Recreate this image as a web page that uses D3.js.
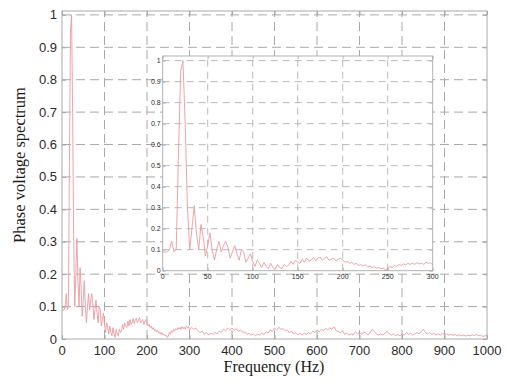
<!DOCTYPE html>
<html>
<head>
<meta charset="utf-8">
<script src="https://cdn.jsdelivr.net/npm/d3@7"></script>
<style>
  html, body { margin: 0; padding: 0; background: #fff; }
  svg { display: block; }
</style>
</head>
<body>
<svg id="chart" width="506" height="379"></svg>
<script>
// Low band spectrum, 0–300 Hz in 2.5 Hz steps
const lowStep = 2.5;
const lowValues = [
  0.090, 0.088, 0.090, 0.100, 0.140, 0.090, 0.100, 0.550, 0.950, 1.000,
  0.700, 0.300, 0.100, 0.200, 0.310, 0.180, 0.100, 0.220, 0.160, 0.070,
  0.120, 0.180, 0.100, 0.050, 0.100, 0.140, 0.090, 0.120, 0.140, 0.110,
  0.060, 0.090, 0.120, 0.080, 0.050, 0.100, 0.090, 0.040, 0.060, 0.080,
  0.045, 0.020, 0.050, 0.035, 0.015, 0.040, 0.020, 0.010, 0.035, 0.015,
  0.005, 0.030, 0.015, 0.010, 0.030, 0.020, 0.025, 0.045, 0.030, 0.050,
  0.040, 0.035, 0.055, 0.040, 0.060, 0.045, 0.050, 0.063, 0.048, 0.060,
  0.065, 0.050, 0.060, 0.066, 0.050, 0.055, 0.060, 0.045, 0.055, 0.060,
  0.050, 0.040, 0.045, 0.035, 0.040, 0.030, 0.035, 0.025, 0.030, 0.022,
  0.028, 0.018, 0.022, 0.015, 0.020, 0.012, 0.015, 0.010, 0.012, 0.005,
  0.008, 0.020, 0.015, 0.025, 0.020, 0.030, 0.025, 0.032, 0.028, 0.035,
  0.030, 0.036, 0.030, 0.038, 0.032, 0.036, 0.030, 0.040, 0.035, 0.038,
  0.028
];

// High band spectrum, 305–1000 Hz in 5 Hz steps
const highStart = 305;
const highStep = 5;
const highValues = [
  0.036, 0.030, 0.034, 0.025, 0.020, 0.024, 0.015, 0.020, 0.012, 0.018,
  0.014, 0.020, 0.016, 0.024, 0.020, 0.030, 0.025, 0.033, 0.028, 0.034,
  0.027, 0.032, 0.024, 0.028, 0.020, 0.022, 0.014, 0.018, 0.012, 0.016,
  0.010, 0.015, 0.012, 0.018, 0.014, 0.022, 0.018, 0.028, 0.024, 0.034,
  0.028, 0.036, 0.030, 0.032, 0.025, 0.028, 0.020, 0.024, 0.016, 0.020,
  0.013, 0.018, 0.012, 0.018, 0.014, 0.020, 0.016, 0.024, 0.020, 0.028,
  0.022, 0.030, 0.026, 0.032, 0.028, 0.034, 0.030, 0.038, 0.026, 0.024,
  0.018, 0.026, 0.014, 0.018, 0.012, 0.016, 0.012, 0.022, 0.016, 0.020,
  0.014, 0.022, 0.018, 0.012, 0.020, 0.030, 0.022, 0.016, 0.012, 0.016,
  0.012, 0.018, 0.024, 0.016, 0.012, 0.015, 0.010, 0.014, 0.010, 0.016,
  0.012, 0.020, 0.014, 0.018, 0.012, 0.016, 0.020, 0.016, 0.022, 0.030,
  0.020, 0.016, 0.020, 0.014, 0.018, 0.012, 0.016, 0.012, 0.018, 0.014,
  0.016, 0.012, 0.015, 0.011, 0.014, 0.010, 0.013, 0.010, 0.012, 0.009,
  0.012, 0.010, 0.013, 0.011, 0.014, 0.010, 0.012, 0.008, 0.010, 0.010
];

const mainXTicks = [0, 100, 200, 300, 400, 500, 600, 700, 800, 900, 1000];
const mainYTicks = [0, 0.1, 0.2, 0.3, 0.4, 0.5, 0.6, 0.7, 0.8, 0.9, 1];
const insetXTicks = [0, 50, 100, 150, 200, 250, 300];
const insetYTicks = [0, 0.1, 0.2, 0.3, 0.4, 0.5, 0.6, 0.7, 0.8, 0.9, 1];

const lowSeries = lowValues.map((v, i) => ({ f: i * lowStep, v }));
const highSeries = highValues.map((v, i) => ({ f: highStart + i * highStep, v }));
const fullSeries = lowSeries.concat(highSeries);

const svg = d3.select("#chart");
const lineColor = "#ec9a9f";
const gridColor = "#a8a8a8";
const boxColor = "#a8a8a8";
const textColor = "#2b2b2b";

function drawAxes(g, x, y, xTicks, yTicks, opts) {
  const [x0, x1] = x.range();
  const [yb, yt] = y.range();

  g.append("rect")
    .attr("x", x0).attr("y", yt)
    .attr("width", x1 - x0).attr("height", yb - yt)
    .attr("fill", "#fff");

  // dashed grid
  const grid = g.append("g")
    .attr("stroke", gridColor)
    .attr("stroke-width", opts.gridWidth)
    .attr("stroke-dasharray", opts.dash);
  grid.selectAll("line.vx")
    .data(xTicks.filter(t => t !== x.domain()[0] && t !== x.domain()[1]))
    .join("line")
    .attr("x1", d => x(d)).attr("x2", d => x(d))
    .attr("y1", yb).attr("y2", yt);
  grid.selectAll("line.hy")
    .data(yTicks.filter(t => t !== 0))
    .join("line")
    .attr("y1", d => y(d)).attr("y2", d => y(d))
    .attr("x1", x0).attr("x2", x1);

  // tick marks (inward, all four sides) via d3 axes
  const tickLen = opts.tickLen;
  g.append("g").attr("transform", `translate(0,${yb})`)
    .call(d3.axisBottom(x).tickValues(xTicks).tickSize(-tickLen).tickFormat(""));
  g.append("g").attr("transform", `translate(0,${yt})`)
    .call(d3.axisTop(x).tickValues(xTicks).tickSize(-tickLen).tickFormat(""));
  g.append("g").attr("transform", `translate(${x0},0)`)
    .call(d3.axisLeft(y).tickValues(yTicks).tickSize(-tickLen).tickFormat(""));
  g.append("g").attr("transform", `translate(${x1},0)`)
    .call(d3.axisRight(y).tickValues(yTicks).tickSize(-tickLen).tickFormat(""));
  g.selectAll(".domain").remove();
  g.selectAll(".tick line").attr("stroke", boxColor).attr("stroke-width", opts.gridWidth);

  // tick labels
  g.append("g").selectAll("text")
    .data(xTicks).join("text")
    .attr("x", d => x(d)).attr("y", yb + opts.xLabelOffset)
    .attr("text-anchor", "middle")
    .attr("font-family", "Liberation Sans, Arial, sans-serif")
    .attr("font-size", opts.fontSize)
    .attr("fill", textColor)
    .text(d => d);
  g.append("g").selectAll("text")
    .data(yTicks).join("text")
    .attr("x", x0 - opts.yLabelGap).attr("y", d => y(d))
    .attr("dy", "0.35em")
    .attr("text-anchor", "end")
    .attr("font-family", "Liberation Sans, Arial, sans-serif")
    .attr("font-size", opts.fontSize)
    .attr("fill", textColor)
    .text(d => d);
}

function drawBox(g, x, y, w) {
  const [x0, x1] = x.range();
  const [yb, yt] = y.range();
  g.append("rect")
    .attr("x", x0).attr("y", yt)
    .attr("width", x1 - x0).attr("height", yb - yt)
    .attr("fill", "none")
    .attr("stroke", boxColor)
    .attr("stroke-width", w);
}

// ---- main axes ----
const xMain = d3.scaleLinear().domain([0, 1000]).range([62, 487]);
const yMain = d3.scaleLinear().domain([0, 1.012]).range([339, 11]);
const gMain = svg.append("g");
drawAxes(gMain, xMain, yMain, mainXTicks, mainYTicks, {
  gridWidth: 1, dash: "9,5", tickLen: 4, fontSize: 13, xLabelOffset: 16, yLabelGap: 5
});

const lineMain = d3.line().x(d => xMain(d.f)).y(d => yMain(d.v));
gMain.append("path")
  .datum(fullSeries)
  .attr("d", lineMain)
  .attr("fill", "none")
  .attr("stroke", lineColor)
  .attr("stroke-width", 0.9);
drawBox(gMain, xMain, yMain, 1);

// axis titles
svg.append("text")
  .attr("x", 274).attr("y", 372)
  .attr("text-anchor", "middle")
  .attr("font-family", "Liberation Serif, Times New Roman, serif")
  .attr("font-size", 16)
  .attr("fill", "#1a1a1a")
  .text("Frequency (Hz)");
svg.append("text")
  .attr("transform", "translate(25,165) rotate(-90)")
  .attr("text-anchor", "middle")
  .attr("font-family", "Liberation Serif, Times New Roman, serif")
  .attr("font-size", 16.5)
  .attr("fill", "#1a1a1a")
  .text("Phase voltage spectrum");

// ---- inset axes: zoom on 0–300 Hz ----
const xInset = d3.scaleLinear().domain([0, 300]).range([162.7, 432.7]);
const yInset = d3.scaleLinear().domain([0, 1.022]).range([270.7, 56]);
const gInset = svg.append("g");
drawAxes(gInset, xInset, yInset, insetXTicks, insetYTicks, {
  gridWidth: 0.8, dash: "7,5", tickLen: 3, fontSize: 7, xLabelOffset: 8, yLabelGap: 2
});
const lineInset = d3.line().x(d => xInset(d.f)).y(d => yInset(d.v));
gInset.append("path")
  .datum(lowSeries)
  .attr("d", lineInset)
  .attr("fill", "none")
  .attr("stroke", lineColor)
  .attr("stroke-width", 0.9);
drawBox(gInset, xInset, yInset, 0.9);
</script>
</body>
</html>
